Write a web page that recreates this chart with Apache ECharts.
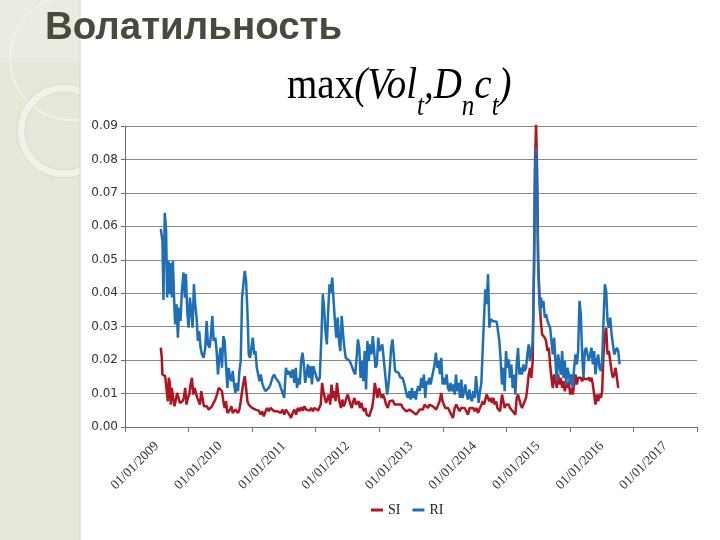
<!DOCTYPE html>
<html><head><meta charset="utf-8">
<script src="https://cdn.jsdelivr.net/npm/echarts/dist/echarts.min.js"></script>
<style>html,body{margin:0;padding:0;background:#fff}#c{width:720px;height:540px}</style>
</head><body><div id="c"></div>
<script>
const pageTitle = 'Волатильность';
const formulaText = '{m|max}{i|(Vol}{s|t}{i|,D}{s|n}{i|c}{s|t}{i|)}{h| }';
const yearLabels = ['01/01/2009','01/01/2010','01/01/2011','01/01/2012','01/01/2013','01/01/2014','01/01/2015','01/01/2016','01/01/2017'];
const yTicks = {min: 0, max: 0.09, step: 0.01};
const seriesNames = ['SI', 'RI'];

// [decimal year, value]
const siData = [
[2009.563,0.0237],[2009.579,0.0207],[2009.589,0.0157],[2009.632,0.0152],[2009.663,0.0152],[2009.674,0.0077],[2009.689,0.0147],[2009.705,0.0132],[2009.721,0.0067],[2009.737,0.0117],[2009.758,0.0087],[2009.779,0.0062],[2009.800,0.0067],[2009.821,0.0102],[2009.842,0.0087],[2009.863,0.0072],[2009.884,0.0067],[2009.905,0.0077],[2009.926,0.0087],[2009.947,0.0117],[2009.968,0.0067],[2009.989,0.0087],
[2010.011,0.0097],[2010.032,0.0127],[2010.053,0.0147],[2010.074,0.0097],[2010.095,0.0117],[2010.116,0.0112],[2010.137,0.0087],[2010.158,0.0092],[2010.179,0.0067],[2010.200,0.0107],[2010.221,0.0102],[2010.242,0.0062],[2010.263,0.0067],[2010.289,0.0062],[2010.316,0.0052],[2010.342,0.0047],[2010.368,0.0062],[2010.395,0.0067],[2010.421,0.0082],[2010.447,0.0097],[2010.474,0.0117],[2010.500,0.0122],[2010.526,0.0107],[2010.547,0.0077],[2010.568,0.0057],[2010.589,0.0077],[2010.611,0.0042],[2010.632,0.0037],[2010.653,0.0052],[2010.674,0.0062],[2010.695,0.0042],[2010.716,0.0037],[2010.737,0.0052],[2010.758,0.0047],[2010.779,0.0042],[2010.800,0.0052],[2010.821,0.0077],[2010.842,0.0107],[2010.863,0.0132],[2010.884,0.0152],[2010.905,0.0117],[2010.926,0.0077],[2010.947,0.0067],[2010.974,0.0062],
[2011.000,0.0057],[2011.026,0.0062],[2011.053,0.0052],[2011.079,0.0047],[2011.105,0.0049],[2011.132,0.0037],[2011.158,0.0047],[2011.184,0.0032],[2011.211,0.0047],[2011.237,0.0057],[2011.263,0.0047],[2011.289,0.0057],[2011.346,0.0047],[2011.399,0.0047],[2011.452,0.0042],[2011.479,0.0052],[2011.505,0.0037],[2011.532,0.0052],[2011.559,0.0047],[2011.585,0.0037],[2011.612,0.0027],[2011.638,0.0042],[2011.665,0.0052],[2011.691,0.0037],[2011.718,0.0057],[2011.745,0.0047],[2011.771,0.0059],[2011.798,0.0049],[2011.824,0.0062],[2011.851,0.0052],[2011.878,0.0057],[2011.904,0.0049],[2011.931,0.0057],[2011.957,0.0047],[2011.984,0.0057],
[2012.011,0.0052],[2012.037,0.0049],[2012.064,0.0047],[2012.080,0.0067],[2012.101,0.0132],[2012.122,0.0107],[2012.144,0.0087],[2012.165,0.0072],[2012.186,0.0077],[2012.207,0.0097],[2012.229,0.0067],[2012.250,0.0127],[2012.271,0.0087],[2012.293,0.0107],[2012.314,0.0077],[2012.335,0.0132],[2012.356,0.0097],[2012.378,0.0072],[2012.399,0.0057],[2012.420,0.0082],[2012.441,0.0062],[2012.463,0.0072],[2012.484,0.0087],[2012.505,0.0097],[2012.527,0.0082],[2012.548,0.0067],[2012.569,0.0057],[2012.590,0.0077],[2012.612,0.0087],[2012.633,0.0067],[2012.654,0.0062],[2012.676,0.0077],[2012.697,0.0057],[2012.718,0.0072],[2012.739,0.0057],[2012.761,0.0047],[2012.782,0.0057],[2012.803,0.0037],[2012.824,0.0042],[2012.846,0.0032],[2012.867,0.0047],[2012.888,0.0057],[2012.910,0.0087],[2012.931,0.0132],[2012.952,0.0107],[2012.973,0.0087],[2012.995,0.0117],
[2013.016,0.0097],[2013.037,0.0087],[2013.059,0.0097],[2013.080,0.0087],[2013.109,0.0067],[2013.136,0.0057],[2013.162,0.0077],[2013.188,0.0072],[2013.214,0.0079],[2013.241,0.0067],[2013.267,0.0062],[2013.293,0.0067],[2013.319,0.0062],[2013.346,0.0067],[2013.372,0.0057],[2013.398,0.0062],[2013.425,0.0047],[2013.451,0.0049],[2013.477,0.0052],[2013.503,0.0047],[2013.530,0.0045],[2013.556,0.0042],[2013.582,0.0037],[2013.608,0.0042],[2013.635,0.0052],[2013.661,0.0057],[2013.687,0.0052],[2013.714,0.0067],[2013.740,0.0062],[2013.766,0.0057],[2013.792,0.0067],[2013.819,0.0072],[2013.845,0.0062],[2013.871,0.0067],[2013.897,0.0052],[2013.924,0.0057],[2013.950,0.0077],[2013.976,0.0102],[2013.997,0.0077],
[2014.018,0.0067],[2014.039,0.0057],[2014.060,0.0052],[2014.081,0.0057],[2014.108,0.0047],[2014.134,0.0037],[2014.160,0.0027],[2014.187,0.0057],[2014.213,0.0067],[2014.239,0.0057],[2014.265,0.0047],[2014.292,0.0057],[2014.318,0.0062],[2014.344,0.0057],[2014.370,0.0047],[2014.397,0.0037],[2014.423,0.0057],[2014.449,0.0052],[2014.475,0.0057],[2014.502,0.0047],[2014.528,0.0057],[2014.554,0.0042],[2014.581,0.0047],[2014.607,0.0067],[2014.628,0.0077],[2014.649,0.0067],[2014.670,0.0082],[2014.691,0.0097],[2014.712,0.0092],[2014.733,0.0077],[2014.754,0.0087],[2014.775,0.0072],[2014.796,0.0087],[2014.817,0.0067],[2014.838,0.0077],[2014.859,0.0057],[2014.880,0.0052],[2014.901,0.0047],[2014.932,0.0097],[2014.953,0.0077],[2014.974,0.0057],[2014.995,0.0067],
[2015.016,0.0062],[2015.037,0.0067],[2015.058,0.0057],[2015.079,0.0062],[2015.100,0.0047],[2015.121,0.0052],[2015.142,0.0037],[2015.163,0.0087],[2015.184,0.0097],[2015.205,0.0082],[2015.226,0.0067],[2015.247,0.0057],[2015.268,0.0067],[2015.289,0.0077],[2015.310,0.0087],[2015.331,0.0117],[2015.352,0.0157],[2015.373,0.0177],[2015.394,0.0147],[2015.415,0.0197],[2015.436,0.0497],[2015.452,0.0797],[2015.468,0.0905],[2015.484,0.0767],[2015.500,0.0497],[2015.521,0.0397],[2015.542,0.0317],[2015.563,0.0277],[2015.584,0.0272],[2015.605,0.0267],[2015.626,0.0257],[2015.647,0.0227],[2015.668,0.0237],[2015.689,0.0187],[2015.710,0.0147],[2015.731,0.0117],[2015.752,0.0157],[2015.773,0.0137],[2015.794,0.0117],[2015.815,0.0157],[2015.836,0.0127],[2015.857,0.0147],[2015.878,0.0117],[2015.899,0.0137],[2015.920,0.0107],[2015.941,0.0127],[2015.962,0.0117],[2015.983,0.0137],
[2016.004,0.0097],[2016.025,0.0117],[2016.046,0.0097],[2016.067,0.0127],[2016.088,0.0157],[2016.109,0.0127],[2016.130,0.0147],[2016.151,0.0142],[2016.172,0.0147],[2016.193,0.0137],[2016.214,0.0147],[2016.235,0.0147],[2016.256,0.0142],[2016.277,0.0147],[2016.298,0.0147],[2016.319,0.0137],[2016.340,0.0147],[2016.361,0.0127],[2016.382,0.0097],[2016.403,0.0067],[2016.424,0.0097],[2016.445,0.0077],[2016.466,0.0097],[2016.487,0.0087],[2016.508,0.0107],[2016.529,0.0217],[2016.550,0.0277],[2016.571,0.0297],[2016.592,0.0217],[2016.614,0.0227],[2016.635,0.0197],[2016.656,0.0167],[2016.677,0.0147],[2016.698,0.0157],[2016.719,0.0177],[2016.740,0.0182],[2016.761,0.0117]
];

const riData = [
[2009.563,0.0592],[2009.589,0.0557],[2009.605,0.0380],[2009.626,0.0640],[2009.647,0.0587],[2009.663,0.0387],[2009.684,0.0497],[2009.705,0.0397],[2009.721,0.0490],[2009.737,0.0387],[2009.753,0.0497],[2009.774,0.0377],[2009.789,0.0307],[2009.811,0.0367],[2009.832,0.0267],[2009.853,0.0357],[2009.874,0.0317],[2009.895,0.0407],[2009.921,0.0462],[2009.942,0.0387],[2009.958,0.0457],[2009.979,0.0347],
[2010.000,0.0297],[2010.021,0.0387],[2010.042,0.0347],[2010.063,0.0297],[2010.084,0.0427],[2010.105,0.0367],[2010.126,0.0327],[2010.147,0.0257],[2010.168,0.0287],[2010.189,0.0237],[2010.211,0.0217],[2010.237,0.0207],[2010.263,0.0237],[2010.284,0.0317],[2010.305,0.0247],[2010.332,0.0237],[2010.353,0.0277],[2010.374,0.0332],[2010.395,0.0257],[2010.421,0.0267],[2010.442,0.0227],[2010.463,0.0157],[2010.484,0.0207],[2010.505,0.0237],[2010.526,0.0177],[2010.547,0.0272],[2010.568,0.0257],[2010.589,0.0187],[2010.611,0.0117],[2010.632,0.0177],[2010.653,0.0147],[2010.674,0.0137],[2010.695,0.0167],[2010.716,0.0127],[2010.737,0.0102],[2010.758,0.0132],[2010.779,0.0107],[2010.800,0.0167],[2010.821,0.0197],[2010.842,0.0387],[2010.863,0.0427],[2010.884,0.0467],[2010.905,0.0437],[2010.926,0.0347],[2010.947,0.0217],[2010.968,0.0207],[2010.989,0.0237],
[2011.011,0.0267],[2011.032,0.0217],[2011.053,0.0227],[2011.074,0.0177],[2011.095,0.0157],[2011.116,0.0137],[2011.137,0.0157],[2011.158,0.0132],[2011.184,0.0117],[2011.211,0.0107],[2011.237,0.0102],[2011.263,0.0117],[2011.289,0.0127],[2011.319,0.0147],[2011.346,0.0157],[2011.372,0.0147],[2011.399,0.0152],[2011.426,0.0132],[2011.452,0.0117],[2011.479,0.0102],[2011.505,0.0087],[2011.532,0.0177],[2011.559,0.0157],[2011.585,0.0167],[2011.612,0.0147],[2011.638,0.0172],[2011.665,0.0132],[2011.686,0.0177],[2011.707,0.0117],[2011.729,0.0147],[2011.750,0.0127],[2011.771,0.0197],[2011.793,0.0222],[2011.814,0.0187],[2011.835,0.0132],[2011.856,0.0127],[2011.878,0.0187],[2011.899,0.0147],[2011.920,0.0182],[2011.941,0.0127],[2011.963,0.0182],[2011.984,0.0167],
[2012.016,0.0147],[2012.037,0.0137],[2012.064,0.0147],[2012.090,0.0267],[2012.112,0.0397],[2012.133,0.0357],[2012.154,0.0287],[2012.176,0.0247],[2012.197,0.0347],[2012.218,0.0427],[2012.239,0.0402],[2012.261,0.0447],[2012.282,0.0377],[2012.303,0.0317],[2012.324,0.0267],[2012.346,0.0327],[2012.367,0.0257],[2012.388,0.0227],[2012.410,0.0332],[2012.431,0.0277],[2012.452,0.0237],[2012.473,0.0207],[2012.505,0.0202],[2012.537,0.0197],[2012.569,0.0182],[2012.596,0.0167],[2012.622,0.0157],[2012.644,0.0207],[2012.665,0.0262],[2012.686,0.0237],[2012.707,0.0147],[2012.729,0.0197],[2012.750,0.0137],[2012.771,0.0227],[2012.793,0.0112],[2012.814,0.0257],[2012.835,0.0197],[2012.856,0.0247],[2012.878,0.0217],[2012.899,0.0272],[2012.920,0.0227],[2012.941,0.0177],[2012.963,0.0187],[2012.984,0.0267],
[2013.005,0.0227],[2013.027,0.0227],[2013.048,0.0247],[2013.074,0.0197],[2013.104,0.0197],[2013.125,0.0097],[2013.146,0.0127],[2013.167,0.0177],[2013.188,0.0237],[2013.209,0.0262],[2013.230,0.0267],[2013.251,0.0167],[2013.272,0.0172],[2013.304,0.0162],[2013.335,0.0147],[2013.367,0.0147],[2013.398,0.0127],[2013.430,0.0097],[2013.451,0.0087],[2013.472,0.0107],[2013.493,0.0082],[2013.514,0.0117],[2013.535,0.0087],[2013.556,0.0107],[2013.577,0.0082],[2013.598,0.0112],[2013.619,0.0122],[2013.640,0.0107],[2013.661,0.0147],[2013.682,0.0117],[2013.703,0.0157],[2013.724,0.0087],[2013.745,0.0137],[2013.766,0.0127],[2013.787,0.0147],[2013.808,0.0127],[2013.829,0.0147],[2013.850,0.0167],[2013.871,0.0187],[2013.892,0.0222],[2013.913,0.0177],[2013.934,0.0197],[2013.955,0.0157],[2013.976,0.0207],[2013.997,0.0127],
[2014.018,0.0147],[2014.039,0.0127],[2014.060,0.0157],[2014.081,0.0117],[2014.102,0.0107],[2014.123,0.0132],[2014.144,0.0107],[2014.165,0.0127],[2014.187,0.0097],[2014.208,0.0157],[2014.229,0.0107],[2014.250,0.0132],[2014.271,0.0087],[2014.292,0.0142],[2014.313,0.0087],[2014.334,0.0107],[2014.355,0.0127],[2014.376,0.0097],[2014.397,0.0082],[2014.418,0.0112],[2014.439,0.0087],[2014.460,0.0077],[2014.481,0.0107],[2014.502,0.0087],[2014.523,0.0152],[2014.544,0.0107],[2014.565,0.0072],[2014.586,0.0107],[2014.607,0.0132],[2014.628,0.0137],[2014.649,0.0327],[2014.670,0.0412],[2014.691,0.0367],[2014.712,0.0457],[2014.733,0.0297],[2014.754,0.0322],[2014.786,0.0317],[2014.817,0.0317],[2014.849,0.0315],[2014.870,0.0312],[2014.891,0.0257],[2014.912,0.0197],[2014.932,0.0127],[2014.953,0.0177],[2014.974,0.0107],[2014.995,0.0227],
[2015.016,0.0177],[2015.037,0.0202],[2015.058,0.0147],[2015.079,0.0187],[2015.100,0.0117],[2015.121,0.0157],[2015.142,0.0097],[2015.163,0.0187],[2015.184,0.0237],[2015.205,0.0157],[2015.226,0.0177],[2015.247,0.0157],[2015.268,0.0187],[2015.289,0.0167],[2015.310,0.0177],[2015.331,0.0217],[2015.352,0.0247],[2015.373,0.0197],[2015.394,0.0227],[2015.415,0.0257],[2015.436,0.0467],[2015.452,0.0767],[2015.468,0.0835],[2015.484,0.0717],[2015.500,0.0497],[2015.515,0.0397],[2015.531,0.0337],[2015.547,0.0387],[2015.563,0.0357],[2015.584,0.0377],[2015.605,0.0327],[2015.626,0.0337],[2015.647,0.0317],[2015.668,0.0307],[2015.689,0.0297],[2015.710,0.0257],[2015.731,0.0217],[2015.752,0.0267],[2015.773,0.0197],[2015.794,0.0137],[2015.815,0.0217],[2015.836,0.0187],[2015.857,0.0157],[2015.878,0.0227],[2015.899,0.0147],[2015.920,0.0197],[2015.941,0.0127],[2015.962,0.0177],[2015.983,0.0157],
[2016.004,0.0127],[2016.025,0.0157],[2016.046,0.0117],[2016.067,0.0177],[2016.088,0.0217],[2016.109,0.0187],[2016.130,0.0227],[2016.151,0.0377],[2016.172,0.0337],[2016.193,0.0217],[2016.214,0.0147],[2016.235,0.0227],[2016.256,0.0237],[2016.277,0.0217],[2016.298,0.0197],[2016.319,0.0217],[2016.340,0.0237],[2016.361,0.0187],[2016.382,0.0227],[2016.403,0.0157],[2016.424,0.0197],[2016.445,0.0217],[2016.466,0.0177],[2016.487,0.0167],[2016.508,0.0197],[2016.529,0.0317],[2016.550,0.0427],[2016.571,0.0407],[2016.592,0.0317],[2016.614,0.0297],[2016.635,0.0327],[2016.656,0.0277],[2016.677,0.0247],[2016.698,0.0217],[2016.719,0.0227],[2016.740,0.0237],[2016.761,0.0227],[2016.782,0.0187]
];

const chart = echarts.init(document.getElementById('c'), null, {renderer: 'canvas'});
const serif = '"Liberation Serif","Times New Roman",serif';
chart.setOption({
  animation: false,
  backgroundColor: '#ffffff',
  title: [
    {text: pageTitle, left: 45, top: 9, padding: 0,
     textStyle: {fontFamily: '"Liberation Sans",Arial,sans-serif', fontWeight: 'bold', fontSize: 38.5, lineHeight: 38, color: '#4a4a3c'}}
  ],
  graphic: [
    {type: 'rect', z: -30, shape: {x: 0, y: 0, width: 80, height: 540}, style: {fill: '#e6e7d9'}},
    {type: 'rect', z: -29, shape: {x: 0, y: 0, width: 80, height: 62}, style: {fill: '#ebece1'}},
    {type: 'circle', z: -28, shape: {cx: 72, cy: 58, r: 62}, style: {fill: 'none', stroke: '#f1f2ea', lineWidth: 2}},
    {type: 'ring', z: -27, shape: {cx: 64, cy: 131, r: 47, r0: 39}, style: {fill: '#f1f2ea', stroke: '#d9dacb', lineWidth: 1}},
    {type: 'rect', z: -20, shape: {x: 80, y: 0, width: 640, height: 540}, style: {fill: '#ffffff'}},
    {type: 'line', z: -19, shape: {x1: 80, y1: 0, x2: 80, y2: 540}, style: {stroke: '#d6d7c9', lineWidth: 1}},
    {type: 'text', z: 10, x: 287, y: 93, scaleY: 1.15,
     style: {text: formulaText, verticalAlign: 'middle', align: 'left',
       rich: {
         m: {fontFamily: serif, fontSize: 39, lineHeight: 40, verticalAlign: 'top', fill: '#000'},
         i: {fontFamily: serif, fontStyle: 'italic', fontSize: 39, lineHeight: 40, verticalAlign: 'top', fill: '#000'},
         s: {fontFamily: serif, fontStyle: 'italic', fontSize: 25, lineHeight: 24, verticalAlign: 'bottom', fill: '#000'},
         h: {fontSize: 1, lineHeight: 50, verticalAlign: 'top'}
       }}}
  ],
  legend: {
    data: seriesNames, left: 366, top: 498, icon: 'rect', itemWidth: 12, itemHeight: 3, itemGap: 12,
    textStyle: {fontFamily: serif, fontSize: 14, color: '#222'}
  },
  grid: {left: 125, right: 23, top: 126, bottom: 113, containLabel: false},
  xAxis: [
    {type: 'category', data: yearLabels, boundaryGap: true, position: 'bottom',
     axisLine: {show: true, lineStyle: {color: '#6f6f6f', width: 1}},
     axisTick: {show: true, length: 5, lineStyle: {color: '#6f6f6f'}},
     axisLabel: {rotate: 45, fontFamily: serif, fontSize: 13.5, color: '#333', margin: 17},
     splitLine: {show: false}},
    {type: 'value', min: 2009, max: 2018, show: false}
  ],
  yAxis: {
    type: 'value', min: yTicks.min, max: yTicks.max, interval: yTicks.step,
    axisLine: {show: true, lineStyle: {color: '#6f6f6f', width: 1}},
    axisTick: {show: true, length: 4, lineStyle: {color: '#6f6f6f'}},
    axisLabel: {formatter: v => v.toFixed(2), fontFamily: '"DejaVu Sans",Verdana,sans-serif', fontSize: 12, color: '#333', margin: 7},
    splitLine: {show: true, lineStyle: {color: '#8a8a8a', width: 1}}
  },
  series: [
    {name: seriesNames[0], type: 'line', xAxisIndex: 1, data: siData, showSymbol: false, symbol: 'none',
     lineStyle: {color: '#b1141f', width: 2.5}, itemStyle: {color: '#b1141f'}, clip: true},
    {name: seriesNames[1], type: 'line', xAxisIndex: 1, data: riData, showSymbol: false, symbol: 'none',
     lineStyle: {color: '#1f6fb6', width: 2.5}, itemStyle: {color: '#1f6fb6'}, clip: true}
  ]
});
</script>
</body></html>
